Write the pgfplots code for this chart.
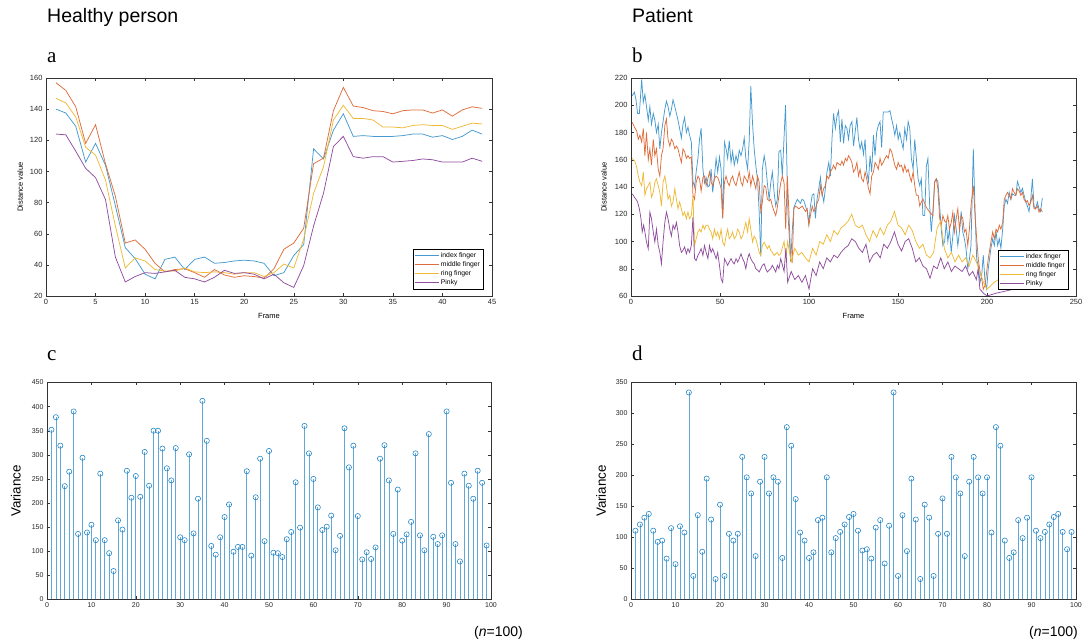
\documentclass[border=0pt]{standalone}
\usepackage{pgfplots}
\pgfplotsset{compat=1.18}
\usepackage{fontspec}
\setmainfont{Liberation Sans}
\newfontfamily\seriffont{Liberation Serif}

\definecolor{mblue}{rgb}{0,0.447,0.741}
\definecolor{morange}{rgb}{0.85,0.325,0.098}
\definecolor{myellow}{rgb}{0.929,0.694,0.125}
\definecolor{mpurple}{rgb}{0.494,0.184,0.556}
\colorlet{lblue}{mblue!72!white}
\colorlet{lorange}{morange!85!white}
\colorlet{lyellow}{myellow!90!white}
\colorlet{lpurple}{mpurple!85!white}

\pgfplotsset{
  matlab/.style={
    scale only axis,
    axis line style={draw=black!80, line width=0.4pt},
    tick style={draw=black!80, line width=0.4pt},
    major tick length=3pt,
    tick align=inside,
    ticklabel style={font=\fontsize{7.5}{8}\selectfont, text=black!85},
    /pgf/number format/assume math mode=true,
    label style={font=\fontsize{7.5}{8}\selectfont},
  },
  fingerlegend/.style={
    legend cell align=left,
    legend style={font=\fontsize{6.8}{7}\selectfont, draw=black, line width=0.4pt,
      inner sep=1pt, row sep=-1.5pt, fill=white},
    legend image code/.code={\draw[##1, line width=0.7pt] (0pt,0pt) -- (24pt,0pt);},
  },
  stemplot/.style={ycomb, draw=mblue!62, line width=0.7pt, mark=o, mark size=2.6pt,
    mark options={draw=mblue!90, fill=mblue!10, line width=0.55pt}},
  fline/.style={line width=0.75pt},
}

\begin{document}
\begin{tikzpicture}
\path[use as bounding box] (0,0) rectangle (1084pt,644pt);

% titles and panel letters
\node[anchor=base west, inner sep=0pt, font=\fontsize{19.5}{20}\selectfont] at (47pt,621pt) {Healthy person};
\node[anchor=base west, inner sep=0pt, font=\fontsize{19.5}{20}\selectfont] at (632pt,621pt) {Patient};
\node[anchor=base west, inner sep=0pt, font=\seriffont\fontsize{21}{22}\selectfont] at (47pt,581pt) {a};
\node[anchor=base west, inner sep=0pt, font=\seriffont\fontsize{21}{22}\selectfont] at (632pt,581pt) {b};
\node[anchor=base west, inner sep=0pt, font=\seriffont\fontsize{21}{22}\selectfont] at (47pt,283pt) {c};
\node[anchor=base west, inner sep=0pt, font=\seriffont\fontsize{21}{22}\selectfont] at (632pt,283pt) {d};
\node[anchor=base east, inner sep=0pt, font=\fontsize{14}{15}\selectfont] at (523pt,7pt) {(\textit{n}=100)};
\node[anchor=base east, inner sep=0pt, font=\fontsize{14}{15}\selectfont] at (1078pt,7pt) {(\textit{n}=100)};

% ---------- a: healthy person ----------
\begin{axis}[matlab, fingerlegend,
  at={(46pt,348pt)}, anchor=south west, width=446pt, height=218pt,
  xmin=0, xmax=45, ymin=20, ymax=160,
  xtick={0,5,...,45}, ytick={20,40,...,160},
  xlabel={Frame}, ylabel={Distance value},
  xlabel style={at={(axis description cs:0.5,-0.092)}, anchor=center},
  ylabel style={at={(axis description cs:-0.058,0.5)}, anchor=center},
  legend style={at={(0.98,0.032)}, anchor=south east},
]
\addplot[lblue, fline] coordinates {(1,140)(2,137.5)(3,129)(4,106)(5,118)(6,104)(7,78)(8,51)(9,44)(10,34)(11,31)(12,43.5)(13,45)(14,37)(15,43.5)(16,45)(17,41)(18,41.5)(19,42.5)(20,43)(21,42.5)(22,41)(23,33)(24,35)(25,46)(26,53)(27,114.5)(28,108)(29,126.5)(30,137)(31,122.5)(32,123)(33,122.5)(34,122.5)(35,122.5)(36,123)(37,124)(38,124)(39,122)(40,123)(41,120.5)(42,122.5)(43,126.5)(44,124)};
\addplot[lorange, fline] coordinates {(1,157)(2,152)(3,141.5)(4,118)(5,130)(6,105)(7,84)(8,54)(9,56)(10,50)(11,41)(12,35.5)(13,37)(14,37.5)(15,35)(16,32)(17,37)(18,33.5)(19,32)(20,33)(21,32.5)(22,31.5)(23,37.5)(24,50)(25,54)(26,63.5)(27,105)(28,108.5)(29,139)(30,154)(31,142)(32,141)(33,139)(34,138.5)(35,137)(36,139)(37,139.5)(38,139.5)(39,137.5)(40,139.5)(41,135.5)(42,139.5)(43,141.5)(44,140.5)};
\addplot[lyellow, fline] coordinates {(1,147)(2,144)(3,135)(4,115.5)(5,110.5)(6,94.5)(7,65)(8,38)(9,44.5)(10,42.5)(11,37)(12,36)(13,36)(14,38)(15,35.5)(16,35)(17,35.5)(18,35)(19,34)(20,35)(21,35)(22,32.5)(23,35)(24,40.5)(25,38)(26,56.5)(27,86)(28,103)(29,133)(30,142.5)(31,134)(32,134)(33,133)(34,128.5)(35,128.5)(36,128)(37,129.5)(38,130)(39,129.5)(40,129.5)(41,127)(42,129)(43,131)(44,130.5)};
\addplot[lpurple, fline] coordinates {(1,124)(2,123.5)(3,113)(4,102)(5,96)(6,82)(7,45)(8,29)(9,32.5)(10,35)(11,34.5)(12,35.5)(13,36.5)(14,32)(15,31)(16,29)(17,32)(18,36.5)(19,34.5)(20,35)(21,34)(22,31)(23,34)(24,28.5)(25,25.5)(26,39.5)(27,65)(28,86)(29,116)(30,122.5)(31,109.5)(32,108.5)(33,109.5)(34,109.5)(35,106)(36,106.5)(37,107)(38,108)(39,107.5)(40,106)(41,106)(42,106)(43,108.5)(44,106.5)};
\legend{index finger, middle finger, ring finger, Pinky}
\end{axis}

% ---------- b: patient ----------
\begin{axis}[matlab, fingerlegend,
  at={(631pt,348pt)}, anchor=south west, width=445pt, height=218pt,
  xmin=0, xmax=250, ymin=60, ymax=220,
  xtick={0,50,...,250}, ytick={60,80,...,220},
  xlabel={Frame}, ylabel={Distance value},
  xlabel style={at={(axis description cs:0.5,-0.092)}, anchor=center},
  ylabel style={at={(axis description cs:-0.061,0.5)}, anchor=center},
  legend style={at={(0.982,0.028)}, anchor=south east},
]
\addplot[lblue, fline] coordinates {(0.7,207)(1.9,209.6)(2.8,204)(3.7,194)(4.7,194)(6.0,219)(6.9,202)(7.8,208)(8.7,199)(9.7,189)(10.6,199)(11.5,186)(12.5,194)(13.4,189)(14.3,180)(15.3,186)(16.2,168)(17.1,180)(18.0,188)(19.0,197)(19.9,203)(20.8,199)(21.8,192)(22.7,197)(23.6,204)(24.6,199)(25.5,194)(26.4,189)(27.3,183)(28.3,176)(29.2,186)(30.1,191)(31.1,180)(32.0,184)(32.9,178)(33.9,173)(34.8,144)(35.7,140)(36.6,151)(37.6,161)(38.5,175)(39.4,183)(40.4,153)(41.3,143)(42.2,147)(43.2,140)(44.1,141)(45.0,153)(45.9,136)(46.9,148)(47.8,161)(48.7,151)(49.7,162)(50.6,153)(51.5,117)(52.5,173)(53.4,168)(54.3,161)(55.2,174)(56.2,158)(57.1,166)(58.0,156)(59.0,163)(59.9,158)(60.8,167)(61.8,163)(62.7,168)(63.6,176)(64.5,161)(65.5,153)(66.4,174)(67.3,214)(68.3,186)(69.2,168)(70.1,156)(71.1,145)(72.0,122)(72.9,89)(73.8,153)(74.8,163)(75.7,156)(76.6,143)(77.6,131)(78.5,143)(79.4,151)(80.4,136)(81.3,126)(82.2,131)(83.1,166)(84.1,167)(85.0,148)(86.8,200)(88.2,120)(89.7,85)(90.7,110)(91.5,125)(93.4,131)(95.2,128)(96.1,131)(97.1,130)(99.0,122)(99.9,113)(100.8,126)(101.8,134)(102.7,135)(103.6,117)(104.5,131)(105.5,139)(106.4,147)(107.3,136)(108.3,129)(109.2,139)(110.1,151)(111.1,158)(112.0,148)(112.9,175)(113.8,194)(114.8,183)(115.7,192)(116.6,196)(117.6,173)(118.5,190)(119.4,172)(120.4,185)(121.3,183)(122.2,175)(123.1,185)(124.1,188)(125.0,170)(125.9,180)(126.9,191)(127.8,175)(128.7,168)(129.6,173)(130.6,164)(131.5,175)(132.4,152)(133.4,144)(134.3,163)(135.2,151)(136.2,178)(137.1,163)(138.0,180)(138.9,185)(139.9,188)(140.8,169)(141.7,195)(142.7,195)(143.6,195)(144.5,195)(145.5,196)(146.4,190)(147.3,185)(148.2,178)(149.2,185)(150.1,175)(151.0,180)(152.0,173)(152.9,168)(153.8,183)(154.8,175)(155.7,188)(156.6,183)(157.5,161)(158.5,153)(159.4,175)(160.3,161)(161.3,146)(162.2,141)(163.1,146)(164.0,119)(165.0,119)(165.9,155)(166.8,161)(167.8,126)(168.7,107)(169.6,122)(170.6,144)(171.5,146)(172.4,144)(173.4,126)(174.3,109)(175.2,97)(176.2,100)(177.1,114)(178.0,100)(178.9,109)(179.9,92)(180.8,104)(181.7,119)(182.7,109)(183.6,97)(184.5,107)(185.5,122)(186.4,107)(187.3,102)(188.2,95)(189.2,80)(190.1,87)(191.0,97)(192.3,168)(193.3,122)(194.2,87)(195.1,82)(196.1,70)(197.0,75)(197.9,90)(198.9,70)(199.8,65)(200.7,80)(202.2,95)(203.2,102)(204.1,97)(205.1,107)(206.0,97)(206.9,102)(207.8,95)(208.8,109)(209.7,126)(210.6,131)(211.5,128)(212.5,136)(213.4,131)(214.3,135)(215.3,134)(216.2,134)(217.1,144)(218.1,140)(219.0,136)(219.9,139)(220.8,134)(221.8,129)(222.7,126)(223.6,122)(224.6,131)(225.5,146)(226.4,126)(227.3,124)(228.3,129)(229.2,124)(230.1,122)(231.1,132)};
\addplot[lorange, fline] coordinates {(0.7,187.5)(1.9,184)(3.2,181)(4.1,175)(5.0,178)(6.0,173)(6.9,183)(7.8,163)(8.7,180)(9.7,160)(10.6,168)(11.5,156)(12.5,175)(13.4,163)(14.3,168)(15.3,153)(16.2,148)(17.1,163)(18.0,168)(19.0,185)(19.9,190)(20.8,175)(21.8,170)(22.7,175)(23.6,173)(24.6,168)(25.5,170)(26.4,168)(27.3,163)(28.3,158)(29.2,168)(30.1,166)(31.1,161)(32.0,163)(32.9,161)(33.9,162)(34.8,134)(35.7,131)(36.6,143.5)(37.6,148)(38.5,146)(39.4,137)(40.4,147)(41.3,148)(42.2,141)(43.2,146)(44.1,151)(45.0,143.5)(45.9,141)(46.9,146)(47.8,148)(48.7,147)(49.7,143.5)(50.6,138.7)(51.5,117)(52.5,143.5)(53.4,148)(54.3,143.5)(55.2,141)(56.2,146)(57.1,148)(58.0,143.5)(59.0,141)(59.9,146)(60.8,151)(61.8,143.5)(62.7,141)(63.6,148)(64.5,146)(65.5,143.5)(66.4,151)(67.3,141)(68.3,148)(69.2,143.5)(70.1,138.7)(71.1,148)(72.0,143.5)(72.9,122)(73.8,129)(74.8,141)(75.7,140)(76.6,131)(77.6,130)(78.5,131)(79.4,126)(80.4,122)(81.3,119)(82.2,125)(84.1,143)(85.0,148)(86.0,143)(86.9,109)(87.8,148)(88.7,122)(89.7,87)(90.6,85)(91.5,124)(92.5,126)(94.3,124)(96.2,126)(98.0,122)(99.0,124)(99.9,112)(100.8,119)(101.8,126)(102.7,122)(103.6,124)(104.5,128)(105.5,131)(106.4,141)(107.3,134)(108.3,139)(109.2,141)(110.1,148)(111.1,146)(112.0,151)(112.9,153)(113.8,156)(114.8,153)(115.7,158)(116.6,157)(117.6,156)(118.5,159)(119.4,156)(120.4,161)(121.3,159)(122.2,163)(123.1,161)(124.1,158)(125.0,151)(125.9,153)(126.9,158)(127.8,148)(128.7,153)(129.6,146)(130.6,144)(131.5,151)(132.4,146)(133.4,139)(134.3,135)(135.2,148)(136.2,151)(137.1,158)(138.0,156)(138.9,153)(139.9,161)(140.8,156)(141.7,158)(142.7,161)(143.6,163)(144.5,161)(145.5,168)(146.4,166)(147.3,161)(148.2,156)(149.2,153)(150.1,158)(151.0,155)(152.0,156)(152.9,151)(153.8,156)(154.8,151)(155.7,153)(156.6,148)(157.5,144)(158.5,151)(159.4,141)(160.3,134)(161.3,134)(162.2,126)(163.1,129)(164.1,131)(165.9,125)(167.8,121.6)(169.6,119)(170.6,143.5)(171.5,146)(172.4,138.7)(173.4,117)(174.3,112)(175.2,119)(176.2,115)(177.1,114)(178.0,119)(178.9,109)(179.9,114)(180.8,121.6)(181.7,107)(182.7,117)(183.6,124)(184.5,109)(185.5,119)(186.4,117)(187.3,107)(188.2,109)(189.2,97)(190.1,109)(191.0,126)(192.3,141)(193.3,119)(194.2,102)(195.1,87)(196.1,77.6)(197.0,72.7)(197.9,65)(198.9,67.8)(199.8,77.6)(200.7,87.4)(202.2,99.6)(203.2,107)(204.1,102)(205.1,109)(206.0,107)(206.9,112)(207.8,109)(208.8,114)(209.7,131)(210.6,133.8)(211.5,136)(212.5,133.8)(213.4,131)(214.3,138.7)(215.3,136)(216.2,133.8)(217.1,138.7)(218.1,137)(219.0,133.8)(219.9,136)(220.8,131)(221.8,128.9)(222.7,130)(223.6,126.4)(224.6,128.9)(225.5,133.8)(226.4,124)(227.3,124)(228.3,126)(229.2,121.6)(230.1,124)(231.1,121.6)};
\addplot[lyellow, fline] coordinates {(0.7,161)(2.1,159)(3.2,154.5)(4.1,148)(5.0,143.5)(6.0,141)(6.9,151)(7.8,134)(8.7,138.7)(9.7,141)(10.6,143.5)(11.5,132.5)(12.5,136)(13.4,143.5)(14.3,146)(15.3,141)(16.2,136)(17.1,126)(18.0,143.5)(19.0,148)(19.9,141)(20.8,131)(21.8,134)(22.7,126)(23.6,129)(24.6,138.7)(25.5,131)(26.4,124)(27.3,129)(28.3,124)(29.2,119)(30.1,121.6)(31.1,116.7)(32.0,121.6)(32.9,116.7)(33.9,119)(34.8,134)(35.7,97)(36.6,102)(37.6,107)(38.5,109)(39.4,107)(40.4,112)(41.3,109)(42.2,112)(43.2,112)(44.1,109)(45.0,107)(45.9,102)(46.9,109)(47.8,104)(48.7,107)(49.7,102)(50.6,109)(51.5,99.6)(52.5,97)(53.4,104)(54.3,109)(55.2,102)(56.2,104)(57.1,107)(58.0,102)(59.0,104)(59.9,109)(60.8,107)(61.8,102)(62.7,104)(63.6,109)(64.5,114)(65.5,107)(66.4,116.7)(67.3,109)(68.3,99.6)(69.2,104)(70.1,102)(71.1,97)(72.0,92)(72.9,89.8)(73.8,97)(74.8,99.6)(75.7,97)(76.6,94.7)(77.6,97)(78.5,93.5)(79.4,92)(80.4,89.8)(81.3,91)(82.2,92)(83.1,89.8)(84.1,91)(86,100)(87,88)(88,100)(90,85)(92,95)(94,90)(96,92)(98,88)(100,85)(102,95)(104,90)(106,100)(108,98)(110,105)(112,100)(114,108)(116,105)(118,110)(120,112)(122,115)(124,120)(126,112)(128,110)(130,112)(132,105)(134,100)(136,108)(138,103)(140,110)(142,105)(144,112)(146,115)(148,122)(150,112)(152,110)(154,105)(156,112)(158,108)(160,100)(162,95)(164,98)(166,90)(168,88)(170,92)(172,110)(174,115)(176,95)(178,88)(180,92)(182,85)(184,90)(186,85)(188,88)(190,82)(192,90)(194,85)(196,78)(198,70)(200,65)(204,70)(210,75)(220,80)(232,80)};
\addplot[lpurple, fline] coordinates {(0.7,135)(1.9,132.5)(2.8,131)(3.7,129)(4.7,124)(5.6,116.7)(6.3,107)(7.1,112)(7.8,107)(8.7,99.6)(9.7,94.7)(10.6,121.6)(11.5,116.7)(12.5,107)(13.4,99.6)(14.3,109)(15.3,97)(16.2,92)(17.1,83.6)(18.0,99.6)(19.0,114)(19.9,121.6)(20.8,116.7)(21.8,109)(22.7,104)(23.6,112)(24.6,109)(25.5,114)(26.4,107)(27.3,97)(28.3,92)(29.2,93.5)(30.1,96)(31.1,91)(32.0,94.7)(32.9,92)(33.9,97)(34.8,118)(35.7,87.4)(36.6,86)(37.6,89.8)(38.5,92)(39.4,94.7)(40.4,89.8)(41.3,97)(42.2,92)(43.2,87.4)(44.1,97)(45.0,92)(45.9,94.7)(46.9,91)(47.8,87.4)(48.7,92)(49.7,82.5)(50.6,72.7)(51.5,70)(52.5,87.4)(53.4,85)(54.3,82.5)(55.2,85)(56.2,87.4)(57.1,85)(58.0,83.6)(59.0,87.4)(59.9,85)(60.8,87.4)(61.8,91)(62.7,87.4)(63.6,85)(64.5,80)(65.5,87.4)(66.4,91)(67.3,87.4)(68.3,85)(69.2,83.6)(70.1,80)(71.1,79)(72.0,77.6)(72.9,80)(73.8,82.5)(74.8,83.6)(75.7,80)(76.6,77.6)(77.6,79)(78.5,80)(79.4,82.5)(80.4,80)(81.3,77.6)(82.2,82.5)(83.1,80)(84.1,87.4)(86,78)(87,95)(88,70)(90,78)(92,72)(94,75)(96,70)(98,75)(100,65)(102,80)(104,75)(106,85)(108,80)(110,88)(112,85)(114,90)(116,88)(118,92)(120,95)(122,97)(124,102)(126,100)(128,95)(130,92)(132,98)(134,85)(136,90)(138,92)(140,88)(142,98)(144,95)(146,100)(148,107)(150,98)(152,93)(154,100)(156,102)(158,95)(160,85)(162,88)(164,82)(166,80)(168,73)(170,82)(172,80)(174,88)(176,80)(178,85)(180,78)(182,82)(184,80)(186,78)(188,82)(190,75)(192,78)(194,72)(195,80)(196,65)(198,62)(200,60)(205,62)(215,65)(232,65)};
\legend{index finger, middle finger, ring finger, Pinky}
\end{axis}

% ---------- c: healthy variance ----------
\begin{axis}[matlab,
  at={(47pt,44.5pt)}, anchor=south west, width=444pt, height=217pt,
  xmin=0, xmax=100, ymin=0, ymax=450,
  xtick={0,10,...,100}, ytick={0,50,...,450},
  ticklabel style={font=\fontsize{7}{8}\selectfont},
  ylabel={Variance},
  ylabel style={at={(axis description cs:-0.07,0.5)}, anchor=center, font=\fontsize{13.4}{14}\selectfont},
]
\addplot[stemplot] coordinates {(1,352)(2,378)(3,319)(4,235)(5,265)(6,390)(7,136)(8,294)(9,139)(10,155)(11,123)(12,261)(13,123)(14,96)(15,59)(16,164)(17,145)(18,267)(19,211)(20,256)(21,213)(22,306)(23,236)(24,350)(25,350)(26,313)(27,272)(28,247)(29,314)(30,129)(31,123)(32,301)(33,137)(34,209)(35,412)(36,329)(37,111)(38,93)(39,129)(40,171)(41,197)(42,99)(43,109)(44,109)(45,266)(46,91)(47,212)(48,292)(49,121)(50,308)(51,97)(52,96)(53,88)(54,125)(55,140)(56,243)(57,149)(58,360)(59,303)(60,250)(61,191)(62,144)(63,151)(64,174)(65,102)(66,132)(67,355)(68,274)(69,319)(70,173)(71,83)(72,98)(73,84)(74,108)(75,292)(76,320)(77,247)(78,136)(79,228)(80,122)(81,135)(82,161)(83,303)(84,133)(85,102)(86,343)(87,130)(88,115)(89,133)(90,390)(91,242)(92,115)(93,79)(94,261)(95,236)(96,209)(97,267)(98,242)(99,112)};
\end{axis}

% ---------- d: patient variance ----------
\begin{axis}[matlab,
  at={(631pt,44.5pt)}, anchor=south west, width=445pt, height=217pt,
  xmin=0, xmax=100, ymin=0, ymax=350,
  xtick={0,10,...,100}, ytick={0,50,...,350},
  ticklabel style={font=\fontsize{7}{8}\selectfont},
  ylabel={Variance},
  ylabel style={at={(axis description cs:-0.067,0.5)}, anchor=center, font=\fontsize{13.4}{14}\selectfont},
]
\addplot[stemplot] coordinates {(1,111)(2,121)(3,132)(4,138)(5,111)(6,93)(7,95)(8,66)(9,115)(10,57)(11,118)(12,108)(13,334)(14,38)(15,136)(16,77)(17,195)(18,129)(19,33)(20,153)(21,38)(22,106)(23,95)(24,106)(25,230)(26,197)(27,171)(28,70)(29,190)(30,230)(31,171)(32,197)(33,190)(34,67)(35,278)(36,248)(37,162)(38,108)(39,95)(40,67)(41,76)(42,128)(43,132)(44,197)(45,76)(46,99)(47,109)(48,121)(49,133)(50,138)(51,111)(52,79)(53,81)(54,66)(55,116)(56,128)(57,58)(58,119)(59,334)(60,38)(61,136)(62,78)(63,195)(64,129)(65,33)(66,153)(67,132)(68,38)(69,106)(70,163)(71,106)(72,230)(73,197)(74,171)(75,70)(76,190)(77,230)(78,197)(79,171)(80,197)(81,108)(82,278)(83,248)(84,95)(85,67)(86,76)(87,128)(88,99)(89,132)(90,197)(91,111)(92,99)(93,109)(94,121)(95,133)(96,138)(97,109)(98,81)(99,109)};
\end{axis}
\end{tikzpicture}
\end{document}
